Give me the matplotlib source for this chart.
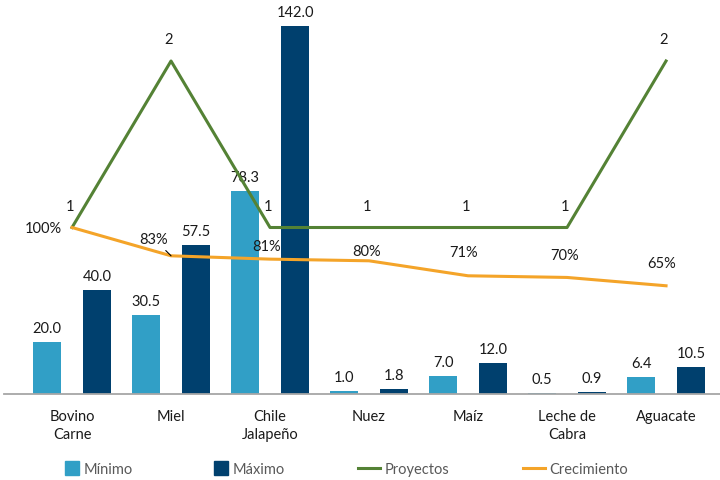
import numpy as np
import matplotlib
matplotlib.use("Agg")
import matplotlib.pyplot as plt
from matplotlib.lines import Line2D
from matplotlib.patches import Patch, Rectangle
from matplotlib.legend_handler import HandlerPatch

plt.rcParams['font.family'] = ['Lato', 'DejaVu Sans']

categorias = ["Bovino\nCarne", "Miel", "Chile\nJalapeño", "Nuez", "Maíz", "Leche de\nCabra", "Aguacate"]
minimo = [20.0, 30.5, 78.3, 1.0, 7.0, 0.5, 6.4]
maximo = [40.0, 57.5, 142.0, 1.8, 12.0, 0.9, 10.5]
proyectos = [1, 2, 1, 1, 1, 1, 2]
crecimiento = [1.00, 0.83, 0.81, 0.80, 0.71, 0.70, 0.65]

c_min = '#319FC6'
c_max = '#00406E'
c_proy = '#548235'
c_crec = '#F4A429'
c_text = '#1A1A1A'
fs = 10.5

# label offsets in pixels (dx, dy) for the growth labels
crec_off = [(-29, 0), (-17, 17), (-3, 13), (-2, 10), (-4, 24), (-2, 22), (-4, 23)]


def square_patch(legend, orig_handle, xdescent, ydescent, width, height, fontsize):
    # small square pushed to the right end of the handle box
    s = 10.0
    return Rectangle((-xdescent + width - s, -ydescent + (height - s) / 2), s, s)


fig = plt.figure(figsize=(7.2, 4.81), dpi=100)
W, H = 720, 481
ax = fig.add_axes([4 / W, (H - 395) / H, (720 - 4) / W, (395 - 10) / H])

x = np.arange(len(categorias))
bw = 0.283
off = 0.2525
b1 = ax.bar(x - off, minimo, bw, color=c_min, zorder=2)
b2 = ax.bar(x + off, maximo, bw, color=c_max, zorder=2)

for bars, vals in ((b1, minimo), (b2, maximo)):
    for b, v in zip(bars, vals):
        ax.annotate(f"{v:.1f}", (b.get_x() + b.get_width() / 2, v),
                    xytext=(0, 14), textcoords='offset pixels',
                    ha='center', va='center', fontsize=fs, color=c_text)

ax.set_xlim(-0.687, 6.545)
ax.set_ylim(0, 385 / (368 / 142.0))
for s in ('top', 'right', 'left'):
    ax.spines[s].set_visible(False)
ax.spines['bottom'].set_color('#A6A6A6')
ax.spines['bottom'].set_linewidth(1.3)
ax.set_yticks([])
ax.set_xticks(x)
ax.set_xticklabels(categorias, fontsize=fs, color=c_text, linespacing=1.3)
ax.tick_params(axis='x', length=0, pad=11)

ax2 = ax.twinx()
ax2.set_ylim(0, 385 / 166.5)
ax2.set_yticks([])
for s in ax2.spines.values():
    s.set_visible(False)

ax2.plot(x, proyectos, color=c_proy, lw=2.2, zorder=3)
ax2.plot(x, crecimiento, color=c_crec, lw=2.2, zorder=3)

for xi, v in zip(x, proyectos):
    ax2.annotate(f"{v}", (xi, v), xytext=(-2, 22), textcoords='offset pixels',
                 ha='center', va='center', fontsize=fs, color=c_text)

for i, (xi, v) in enumerate(zip(x, crecimiento)):
    dx, dy = crec_off[i]
    kw = {}
    if i == 1:
        kw['arrowprops'] = dict(arrowstyle='-', color='black', lw=0.8, shrinkA=2, shrinkB=0)
    ax2.annotate(f"{v:.0%}", (xi, v), xytext=(dx, dy), textcoords='offset pixels',
                 ha='center', va='center', fontsize=fs, color=c_text, **kw)

handles = [
    Patch(color=c_min),
    Patch(color=c_max),
    Line2D([], [], color=c_proy, lw=2.2),
    Line2D([], [], color=c_crec, lw=2.2),
]
leg = fig.legend(handles, ["Mínimo", "Máximo", "Proyectos", "Crecimiento"],
                 loc='center left', bbox_to_anchor=(57 / W, 1 - 470 / H), ncol=4,
                 frameon=False, fontsize=fs, handlelength=1.5, handletextpad=0.3,
                 columnspacing=5.05, borderpad=0, borderaxespad=0,
                 handler_map={Patch: HandlerPatch(patch_func=square_patch)})
for t in leg.get_texts():
    t.set_color('#595959')

fig.savefig("out.png", dpi=100)
